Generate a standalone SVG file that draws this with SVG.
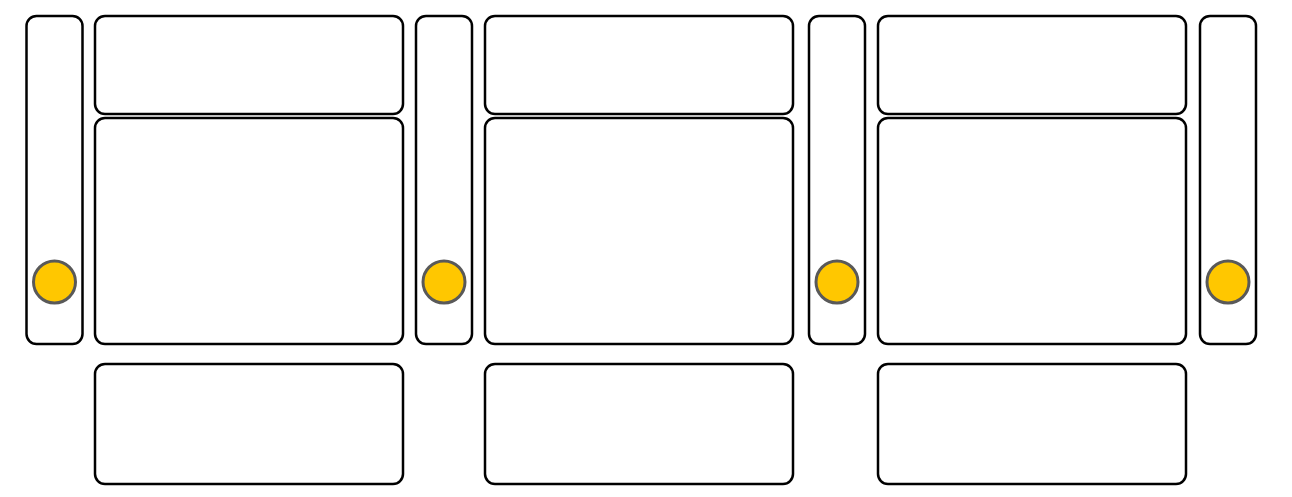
<svg xmlns="http://www.w3.org/2000/svg" width="1292" height="497" viewBox="0 0 1292 497">
<style>
.b{fill:#fff;stroke:#000;stroke-width:2.5}
.c{fill:#ffc700;stroke:#595959;stroke-width:3}
</style>
<rect width="1292" height="497" fill="#fff"/>
<g id="bar1"><rect class="b" x="26.5" y="16" width="56" height="328" rx="10"/><circle class="c" cx="54.5" cy="282" r="21"/></g>
<g id="col1-top"><rect class="b" x="95" y="16" width="308" height="98" rx="10"/></g>
<g id="col1-mid"><rect class="b" x="95" y="118" width="308" height="226" rx="10"/></g>
<g id="col1-bot"><rect class="b" x="95" y="364" width="308" height="120" rx="10"/></g>
<g id="bar2"><rect class="b" x="416" y="16" width="56" height="328" rx="10"/><circle class="c" cx="444" cy="282" r="21"/></g>
<g id="col2-top"><rect class="b" x="485" y="16" width="308" height="98" rx="10"/></g>
<g id="col2-mid"><rect class="b" x="485" y="118" width="308" height="226" rx="10"/></g>
<g id="col2-bot"><rect class="b" x="485" y="364" width="308" height="120" rx="10"/></g>
<g id="bar3"><rect class="b" x="809" y="16" width="56" height="328" rx="10"/><circle class="c" cx="837" cy="282" r="21"/></g>
<g id="col3-top"><rect class="b" x="878" y="16" width="308" height="98" rx="10"/></g>
<g id="col3-mid"><rect class="b" x="878" y="118" width="308" height="226" rx="10"/></g>
<g id="col3-bot"><rect class="b" x="878" y="364" width="308" height="120" rx="10"/></g>
<g id="bar4"><rect class="b" x="1200" y="16" width="56" height="328" rx="10"/><circle class="c" cx="1228" cy="282" r="21"/></g>
<g id="connectors"></g>
</svg>
